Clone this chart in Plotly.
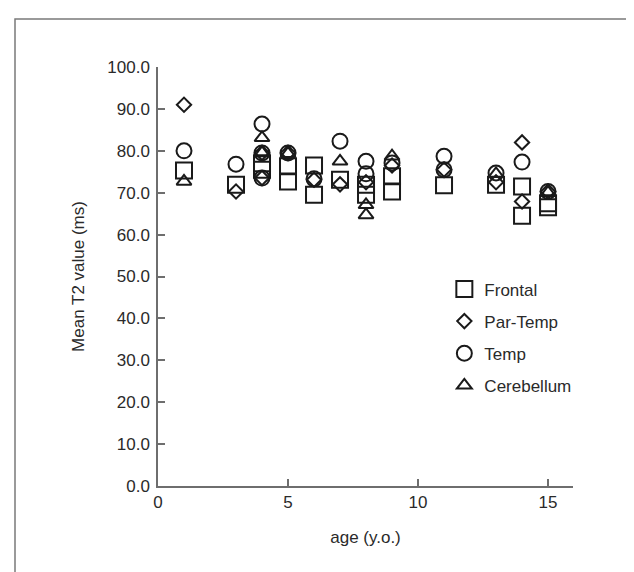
import plotly.graph_objects as go

# ---- data ----
frontal_age = [1, 3, 4, 4, 5, 5, 6, 6, 7, 8, 8, 9, 9, 11, 13, 14, 14, 15, 15]
frontal_t2 = [75.3, 71.9, 77.0, 75.5, 76.3, 72.7, 76.5, 69.5, 73.1, 71.9, 69.5, 73.9, 70.3, 71.8, 71.9, 71.5, 64.5, 66.5, 67.5]

partemp_age = [1, 3, 4, 4, 5, 6, 7, 8, 9, 11, 13, 14, 14, 15]
partemp_t2 = [91.0, 70.3, 79.5, 73.5, 79.5, 73.1, 72.0, 72.5, 76.5, 75.5, 72.5, 82.0, 67.9, 70.3]

temp_age = [1, 3, 4, 4, 4, 5, 6, 7, 8, 8, 9, 11, 11, 13, 14, 15]
temp_t2 = [80.0, 76.8, 86.4, 79.5, 73.5, 79.5, 73.3, 82.3, 77.5, 74.5, 77.1, 78.7, 75.5, 74.7, 77.3, 70.3]

cereb_age = [1, 4, 4, 5, 7, 8, 8, 9, 13, 15]
cereb_t2 = [72.7, 83.1, 79.5, 79.3, 77.5, 67.1, 64.7, 78.7, 74.5, 70.0]

y_ticks = [0, 10, 20, 30, 40, 50, 60, 70, 80, 90, 100]
x_ticks = [0, 5, 10, 15]

FONT = "Liberation Sans, Arial, Helvetica, sans-serif"
MK = "#1a1a1a"
AX = "#6e6e6e"
TXT = "#2a2a2a"

fig = go.Figure()
series = [
    ("Frontal", frontal_age, frontal_t2, "square-open", 16),
    ("Par-Temp", partemp_age, partemp_t2, "diamond-open", 11),
    ("Temp", temp_age, temp_t2, "circle-open", 15),
    ("Cerebellum", cereb_age, cereb_t2, "triangle-up-open", 13),
]
for name, xs, ys, sym, sz in series:
    fig.add_trace(go.Scatter(
        x=xs, y=ys, mode="markers", name=name, legendgroup=name,
        marker=dict(symbol=sym, size=sz, color=MK, line=dict(color=MK, width=2)),
        cliponaxis=False,
    ))

fig.update_layout(
    width=634, height=572,
    margin=dict(l=150, r=69, t=59, b=94),
    paper_bgcolor="white", plot_bgcolor="white",
    font=dict(family=FONT, size=16, color=TXT),
    showlegend=True,
    legend=dict(
        x=0.69, y=0.512, xanchor="left", yanchor="top",
        bgcolor="rgba(0,0,0,0)", traceorder="grouped", tracegroupgap=7,
        font=dict(family=FONT, size=17, color=TXT),
        itemwidth=30,
    ),
    xaxis=dict(
        range=[0, 15.96], tickvals=x_ticks, ticktext=[str(v) for v in x_ticks],
        ticks="inside", ticklen=7, tickwidth=1.5, tickcolor=AX,
        showline=True, linecolor=AX, linewidth=1.5, showgrid=False, zeroline=False,
        tickfont=dict(family=FONT, size=17, color=TXT),
        title=dict(text="age (y.o.)", font=dict(family=FONT, size=17, color=TXT), standoff=20),
    ),
    yaxis=dict(
        range=[0, 100], tickvals=y_ticks, ticktext=[f"{v:.1f}" for v in y_ticks],
        ticks="inside", ticklen=7, tickwidth=1.5, tickcolor=AX,
        showline=True, linecolor=AX, linewidth=1.5, showgrid=False, zeroline=False,
        tickfont=dict(family=FONT, size=17, color=TXT), ticklabelstandoff=3,
        title=dict(text="Mean T2 value (ms)", font=dict(family=FONT, size=17, color=TXT), standoff=18),
    ),
)

# outer frame around the figure
fig.add_shape(type="rect", xref="paper", yref="paper",
              x0=(7 - 150) / 415, x1=(631 - 150) / 415,
              y0=(478 - 600) / 419, y1=(478 - 11) / 419,
              line=dict(color="#7a7a7a", width=1.5), fillcolor="rgba(0,0,0,0)", layer="below")

fig.write_html("out.html")
